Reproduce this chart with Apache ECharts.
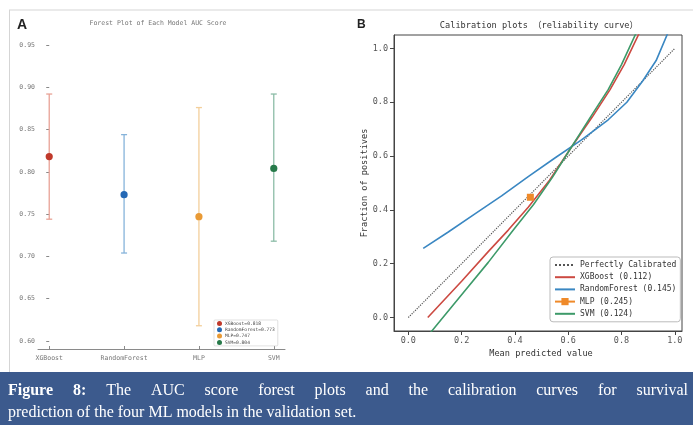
<!DOCTYPE html>
<html>
<head>
<meta charset="utf-8">
<script src="https://cdn.jsdelivr.net/npm/echarts@6/dist/echarts.min.js"></script>
<style>
html, body { margin: 0; padding: 0; background: #fff; }
#chart { width: 693px; height: 425px; }
</style>
</head>
<body>
<div id="chart"></div>
<script>
// ---- Panel A: AUC with 95% CI per model ----
const models = ['XGBoost', 'RandomForest', 'MLP', 'SVM'];
const aucScores = [0.818, 0.773, 0.747, 0.804];
const ciLower = [0.744, 0.704, 0.618, 0.718];
const ciUpper = [0.892, 0.844, 0.876, 0.892];
const forestTicks = [0.60, 0.65, 0.70, 0.75, 0.80, 0.85, 0.90, 0.95];

// ---- Panel B: calibration curves (mean predicted value vs fraction of positives) ----
const calibTicks = [0.0, 0.2, 0.4, 0.6, 0.8, 1.0];
const perfectX = [0, 1];
const perfectY = [0, 1];
const xgbX = [0.073, 0.20, 0.30, 0.375, 0.45, 0.53, 0.61, 0.69, 0.757, 0.81, 0.868];
const xgbY = [0.000, 0.135, 0.245, 0.325, 0.41, 0.51, 0.63, 0.745, 0.847, 0.94, 1.06];
const rfX = [0.056, 0.15, 0.25, 0.35, 0.45, 0.55, 0.65, 0.75, 0.82, 0.88, 0.93, 0.975];
const rfY = [0.257, 0.318, 0.385, 0.452, 0.524, 0.593, 0.66, 0.735, 0.80, 0.88, 0.955, 1.06];
const mlpX = [0.458];
const mlpY = [0.447];
const svmX = [0.080, 0.20, 0.30, 0.394, 0.47, 0.54, 0.61, 0.69, 0.75, 0.80, 0.856];
const svmY = [-0.06, 0.085, 0.205, 0.325, 0.42, 0.52, 0.63, 0.755, 0.847, 0.94, 1.06];
const brierScores = [0.112, 0.145, 0.245, 0.124];

const dotColors = ['#c0392b', '#2469b5', '#e99a35', '#277a4a'];
const barColors = ['#e8a296', '#86b3da', '#f3cf9b', '#8cbca7'];
const curveColors = ['#cc4a42', '#3a87c2', '#ef8a2a', '#3d9a69'];

const MONO = '"DejaVu Sans Mono", "Noto Sans CJK SC", monospace';
const pairs = (xs, ys) => xs.map((x, i) => [x, ys[i]]);

const forestNames = models.map((m, i) => m + '=' + aucScores[i].toFixed(3));
const calibNames = ['Perfectly Calibrated'].concat(models.map((m, i) => m + ' (' + brierScores[i].toFixed(3) + ')'));

const forestSeries = models.map((m, i) => ({
  name: forestNames[i],
  type: 'custom',
  xAxisIndex: 0,
  yAxisIndex: 0,
  itemStyle: { color: dotColors[i] },
  data: [[i, aucScores[i], ciLower[i], ciUpper[i]]],
  renderItem: function (params, api) {
    const x = api.value(0);
    const pm = api.coord([x, api.value(1)]);
    const pl = api.coord([x, api.value(2)]);
    const ph = api.coord([x, api.value(3)]);
    const st = { stroke: barColors[i], lineWidth: 1.3 };
    return {
      type: 'group',
      children: [
        { type: 'line', shape: { x1: pl[0], y1: pl[1], x2: ph[0], y2: ph[1] }, style: st },
        { type: 'line', shape: { x1: ph[0] - 3, y1: ph[1], x2: ph[0] + 3, y2: ph[1] }, style: st },
        { type: 'line', shape: { x1: pl[0] - 3, y1: pl[1], x2: pl[0] + 3, y2: pl[1] }, style: st },
        { type: 'circle', shape: { cx: pm[0], cy: pm[1], r: 3.6 }, style: { fill: dotColors[i] } }
      ]
    };
  }
}));

function curve(name, xs, ys, color) {
  return {
    name: name, type: 'line', xAxisIndex: 1, yAxisIndex: 1,
    data: pairs(xs, ys), symbol: 'none', smooth: false,
    lineStyle: { color: color, width: 1.6 }, itemStyle: { color: color }
  };
}

const calibSeries = [
  {
    name: calibNames[0], type: 'line', xAxisIndex: 1, yAxisIndex: 1,
    data: pairs(perfectX, perfectY), symbol: 'none',
    lineStyle: { color: '#555', width: 1.2, type: 'dotted' }, itemStyle: { color: '#555' }
  },
  curve(calibNames[1], xgbX, xgbY, curveColors[0]),
  curve(calibNames[2], rfX, rfY, curveColors[1]),
  {
    name: calibNames[3], type: 'line', xAxisIndex: 1, yAxisIndex: 1,
    data: pairs(mlpX, mlpY), symbol: 'rect', symbolSize: 7, showSymbol: true,
    lineStyle: { color: curveColors[2], width: 1.6 }, itemStyle: { color: curveColors[2] }
  },
  curve(calibNames[4], svmX, svmY, curveColors[3])
];

// legend entries for plain lines: hide the marker, keep the stroke
const calibLegendData = calibNames.map((n, i) => i === 3 ? { name: n } : { name: n, itemStyle: { opacity: 0 } });

// ---- caption, fully justified on the first line ----
const capLeft = 8, capRight = 688;
const capSize = 16, capFamily = '"Liberation Serif", serif';
const measureCtx = document.createElement('canvas').getContext('2d');
function textWidth(t, bold) {
  measureCtx.font = (bold ? 'bold ' : '') + capSize + 'px ' + capFamily;
  return measureCtx.measureText(t).width;
}
const line1Words = [['Figure', true], ['8:', true]].concat(
  'The AUC score forest plots and the calibration curves for survival'.split(' ').map(w => [w, false]));
const widths = line1Words.map(w => textWidth(w[0], w[1]));
const totalW = widths.reduce((a, b) => a + b, 0);
const gap = (capRight - capLeft - totalW) / (line1Words.length - 1);
const captionEls = [];
let cx = capLeft;
line1Words.forEach((w, i) => {
  captionEls.push({
    type: 'text', x: cx, y: 391, z: 10,
    style: { text: w[0], fill: '#fff', fontSize: capSize, fontFamily: capFamily,
             fontWeight: w[1] ? 'bold' : 'normal', align: 'left', verticalAlign: 'middle' }
  });
  cx += widths[i] + gap;
});
captionEls.push({
  type: 'text', x: capLeft, y: 413, z: 10,
  style: { text: 'prediction of the four ML models in the validation set.', fill: '#fff',
           fontSize: capSize, fontFamily: capFamily, align: 'left', verticalAlign: 'middle' }
});

const option = {
  backgroundColor: '#fff',
  animation: false,
  grid: [
    { left: 38, top: 40, width: 247, height: 309, show: false },
    { left: 394, top: 35, width: 288, height: 296, show: true, borderColor: '#444', borderWidth: 1, backgroundColor: 'transparent' }
  ],
  xAxis: [
    {
      gridIndex: 0, type: 'value', min: -0.15, max: 3.15,
      axisLine: { show: true, lineStyle: { color: '#8a8a8a', width: 1 } },
      axisTick: { show: true, inside: true, length: 3, customValues: [0, 1, 2, 3], lineStyle: { color: '#8a8a8a' } },
      axisLabel: { customValues: [0, 1, 2, 3], formatter: v => models[Math.round(v)], fontSize: 6.5, color: '#777', fontFamily: MONO, margin: 6 },
      splitLine: { show: false }
    },
    {
      gridIndex: 1, type: 'value', min: -0.0537, max: 1.027,
      axisLine: { show: true, onZero: false, lineStyle: { color: '#444' } },
      axisTick: { show: true, length: 4, customValues: calibTicks, lineStyle: { color: '#444' } },
      axisLabel: { customValues: calibTicks, formatter: v => v.toFixed(1), fontSize: 8.5, color: '#555', fontFamily: MONO, margin: 6 },
      splitLine: { show: false }
    }
  ],
  yAxis: [
    {
      gridIndex: 0, type: 'value', min: 0.5905, max: 0.9559,
      axisLine: { show: false },
      axisTick: { show: true, length: 3, customValues: forestTicks, lineStyle: { color: '#888' } },
      axisLabel: { customValues: forestTicks, formatter: v => v.toFixed(2), fontSize: 6.5, color: '#777', fontFamily: MONO, margin: 3 },
      splitLine: { show: false }
    },
    {
      gridIndex: 1, type: 'value', min: -0.05, max: 1.05,
      axisLine: { show: true, onZero: false, lineStyle: { color: '#444' } },
      axisTick: { show: true, length: 4, customValues: calibTicks, lineStyle: { color: '#444' } },
      axisLabel: { customValues: calibTicks, formatter: v => v.toFixed(1), fontSize: 8.5, color: '#555', fontFamily: MONO, margin: 6 },
      splitLine: { show: false }
    }
  ],
  legend: [
    {
      data: forestNames, orient: 'vertical', left: 214, top: 320,
      icon: 'circle', itemWidth: 5, itemHeight: 5, itemGap: 1.3,
      padding: [1, 3, 1, 3], borderColor: '#ccc', borderWidth: 0.6, borderRadius: 1,
      textStyle: { fontSize: 4.6, color: '#444', fontFamily: MONO, padding: [0, 0, 0, -2] },
      selectedMode: false
    },
    {
      data: calibLegendData, orient: 'vertical', left: 550, top: 257,
      itemWidth: 20, itemHeight: 9, itemGap: 4.2,
      padding: [4, 4, 4, 4], borderColor: '#bbb', borderWidth: 1, borderRadius: 3,
      backgroundColor: '#fff',
      textStyle: { fontSize: 8, color: '#333', fontFamily: MONO },
      selectedMode: false
    }
  ],
  series: forestSeries.concat(calibSeries),
  graphic: [
    // figure frame
    { type: 'line', shape: { x1: 9, y1: 10, x2: 693, y2: 10 }, style: { stroke: '#d5d5d5', lineWidth: 1 } },
    { type: 'line', shape: { x1: 9.5, y1: 10, x2: 9.5, y2: 372 }, style: { stroke: '#d5d5d5', lineWidth: 1 } },
    // caption band
    { type: 'rect', shape: { x: 0, y: 372, width: 693, height: 53 }, style: { fill: '#3c5a8d' }, z: 5 },
    // panel letters and titles
    { type: 'text', x: 17, y: 25, style: { text: 'A', fontSize: 14, fontWeight: 'bold', fontFamily: 'Liberation Sans, Arial', fill: '#222', verticalAlign: 'middle' } },
    { type: 'text', x: 158, y: 23, style: { text: 'Forest Plot of Each Model AUC Score', fontSize: 6.5, fontFamily: MONO, fill: '#777', align: 'center', verticalAlign: 'middle' } },
    { type: 'text', x: 357, y: 25, style: { text: 'B', fontSize: 12, fontWeight: 'bold', fontFamily: 'Liberation Sans, Arial', fill: '#222', verticalAlign: 'middle' } },
    { type: 'text', x: 539, y: 26, style: { text: 'Calibration plots （reliability curve）', fontSize: 8.6, fontFamily: MONO, fill: '#333', align: 'center', verticalAlign: 'middle' } },
    { type: 'text', x: 541, y: 354, style: { text: 'Mean predicted value', fontSize: 8.6, fontFamily: MONO, fill: '#333', align: 'center', verticalAlign: 'middle' } },
    { type: 'text', x: 365, y: 183, rotation: Math.PI / 2, style: { text: 'Fraction of positives', fontSize: 8.6, fontFamily: MONO, fill: '#333', align: 'center', verticalAlign: 'middle' } }
  ].concat(captionEls)
};

const chart = echarts.init(document.getElementById('chart'), null, { renderer: 'canvas' });
chart.setOption(option);
</script>
</body>
</html>
